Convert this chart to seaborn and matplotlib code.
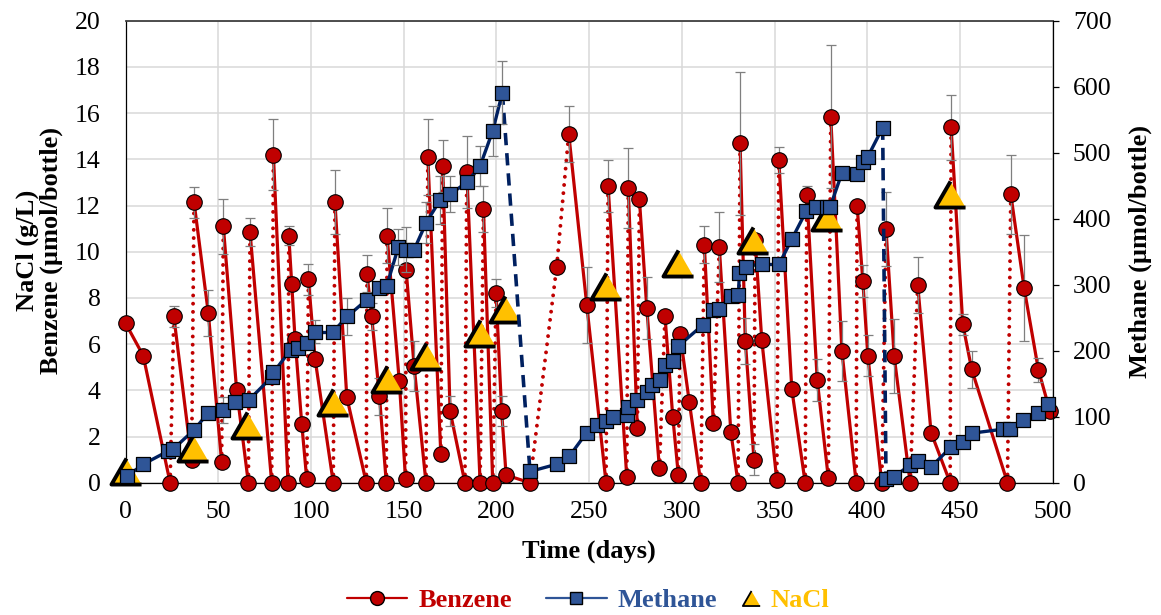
import matplotlib
matplotlib.use("Agg")
import matplotlib.pyplot as plt
from matplotlib.lines import Line2D
import numpy as np
import pandas as pd
import seaborn as sns

# ---- benzene (µmol/bottle), mean and standard deviation ----
benzene_day = [0, 9.5, 24, 26, 35.6, 36.9, 44.6, 51.8, 52.7, 59.9, 66.2, 67.1, 78.8, 79.7,
               87.6, 88.0, 89.6, 91.4, 95.0, 97.7, 98.6, 102.2, 112.0, 112.9, 119.3, 129.8,
               130.2, 132.7, 136.9, 140.6, 141.0, 147.6, 151.0, 151.3, 155.6, 162.0, 163.0,
               170.0, 171.0, 175.0, 183.0, 184.0, 191.2, 193.0, 198.0, 199.8, 202.8, 205.2,
               218.0, 232.5, 239.0, 248.7, 259.1, 260.2, 270.3, 271.1, 276.0, 277.1, 281.1,
               287.9, 290.9, 295.1, 298.1, 299.0, 304.0, 310.2, 312.1, 317.0, 320.2, 326.4,
               330.3, 331.4, 334.2, 338.9, 339.5, 343.1, 351.2, 352.3, 359.3, 366.5, 367.4,
               373.0, 379.0, 380.3, 386.3, 394.0, 394.5, 397.6, 400.3, 407.8, 410.1, 414.5,
               423.1, 427.2, 434.4, 444.7, 445.2, 451.5, 456.3, 475.6, 477.4, 484.6, 492.3,
               498.5]
benzene_umol = [6.9, 5.5, 0, 7.2, 1.0, 12.15, 7.35, 0.9, 11.1, 4.0, 0, 10.85, 0, 14.2,
                0, 10.7, 8.6, 6.2, 2.55, 0.15, 8.8, 5.35, 0, 12.15, 3.7, 0,
                9.05, 7.2, 3.75, 0, 10.7, 4.4, 0.15, 9.2, 5.05, 0, 14.1,
                1.25, 13.7, 3.1, 0, 13.45, 0, 11.85, 0, 8.2, 3.1, 0.33,
                0, 9.35, 15.1, 7.7, 0, 12.85, 0.23, 12.75, 2.35, 12.27, 7.55,
                0.62, 7.2, 2.86, 0.33, 6.44, 3.5, 0, 10.3, 2.57, 10.2, 2.2,
                0, 14.7, 6.15, 1.0, 10.5, 6.18, 0.12, 13.97, 4.04, 0, 12.45,
                4.45, 0.2, 15.85, 5.71, 0, 12.0, 8.74, 5.5, 0, 10.98, 5.48,
                0, 8.56, 2.17, 0, 15.39, 6.86, 4.91, 0, 12.48, 8.42, 4.88,
                3.1]
benzene_sd = [0, 0, 0, 0.45, 0, 0.67, 1.0, 0, 1.18, 0, 0, 0.6, 0, 1.55,
              0, 0.4, 0, 0, 0, 0, 0.67, 0, 0, 1.4, 0, 0,
              0.8, 0.6, 0.8, 0, 1.18, 0, 0, 0, 1.1, 0, 1.65,
              0, 1.12, 0.65, 0, 1.56, 0, 1.0, 0, 0.6, 0.65, 0,
              0, 0, 1.2, 1.65, 0, 1.13, 0, 1.73, 0, 0, 1.35,
              0, 0, 0, 0, 0, 0, 0, 0.8, 0, 1.5, 0,
              0, 3.1, 1.0, 0.67, 0, 0, 0, 0.56, 0, 0, 0.4,
              0.9, 0, 3.1, 1.3, 0, 0, 0.7, 0.9, 0, 1.6, 1.6,
              0, 1.2, 0, 0, 1.4, 0.45, 0.8, 0, 1.7, 2.3, 0.5,
              0]

# ---- methane (µmol/bottle), mean and standard deviation ----
methane_day = [0.9, 9.5, 23, 25.7, 36.9, 44.6, 52.4, 59, 66.7, 78.8, 79.7, 89, 93.2, 97.7,
               102.1, 112, 119.6, 130, 136.9, 140.8, 147.1, 151.2, 155.6, 162.1, 169.6, 175,
               184, 191.2, 198, 203.2, 218.1, 232.5, 239.3, 248.7, 254.1, 259.1, 263, 270.3,
               271.1, 276, 281.1, 283.8, 288.3, 291, 295.1, 298.1, 311.3, 317, 320.2, 326.4,
               330.5, 331, 334.6, 343.1, 352.6, 359.3, 367, 372.4, 378.2, 380, 386.3, 394.3,
               397.6, 400.3, 408.3, 410.1, 414.5, 423.1, 427.6, 434.4, 445.2, 451.5, 456.3,
               473, 477, 484.2, 492.3, 497.7]
methane_umol = [10, 28, 48, 51, 80, 106, 110, 123, 126, 160, 167, 201, 204, 211,
                229, 229, 252, 277, 295, 298, 357, 353, 353, 394, 428, 437,
                455, 480, 533, 591, 17, 28, 40, 76, 87, 94, 100, 103,
                115, 125, 138, 148, 156, 178, 184, 207, 239, 262, 263, 283,
                284, 317, 327, 332, 332, 369, 411, 417, 417, 418, 469, 468,
                486, 494, 538, 5, 9, 27, 33, 24, 54, 62, 75,
                81, 82, 95, 105, 119]
methane_sd = [0, 0, 0, 0, 0, 0, 20, 0, 0, 0, 0, 0, 0, 0,
              17, 0, 28, 0, 0, 0, 27, 34, 0, 31, 36, 27,
              0, 30, 38, 48, 0, 0, 0, 0, 0, 0, 0, 0,
              0, 0, 0, 0, 0, 0, 0, 0, 0, 0, 0, 0,
              0, 0, 0, 0, 0, 0, 0, 0, 0, 0, 0, 0,
              0, 0, 0, 0, 0, 0, 0, 0, 0, 0, 0,
              0, 0, 0, 0, 0]

# ---- NaCl (g/L) ----
nacl_day = [0, 36.2, 65.3, 112, 140.8, 162, 191.2, 204.6, 259.1, 298.1, 338.6, 378.5, 444.7]
nacl_gL = [0.5, 1.5, 2.5, 3.5, 4.5, 5.5, 6.5, 7.5, 8.5, 9.5, 10.5, 11.5, 12.5]

x_ticks = list(range(0, 501, 50))
left_ticks = list(range(0, 21, 2))
right_ticks = list(range(0, 701, 100))

RED = "#C00000"
NAVY = "#002060"
BLUE = "#2F5597"
GOLD = "#FFC000"
GREY = "#7F7F7F"


def segment_table(x, y, classify):
    """One row pair per consecutive segment, tagged with its line kind."""
    rows = []
    for i in range(len(x) - 1):
        kind = classify(y[i], y[i + 1])
        rows.append((i, kind, x[i], y[i]))
        rows.append((i, kind, x[i + 1], y[i + 1]))
    return pd.DataFrame(rows, columns=["seg", "kind", "day", "value"])


sns.set_theme(style="white")
plt.rcParams["font.family"] = ["Liberation Serif", "DejaVu Serif"]
plt.rcParams["axes.unicode_minus"] = False

W, H = 1161, 615
fig = plt.figure(figsize=(W / 100, H / 100), dpi=100)
x0, x1, y0, y1 = 125.6, 1052.7, 20.7, 482.7
ax = fig.add_axes([x0 / W, 1 - y1 / H, (x1 - x0) / W, (y1 - y0) / H])
ax2 = ax.twinx()

# benzene: decay phases solid, re-spikes dotted
bz = segment_table(benzene_day, benzene_umol, lambda a, b: "spike" if b > a else "decay")
sns.lineplot(data=bz[bz["kind"] == "decay"], x="day", y="value", units="seg",
             estimator=None, sort=False, color=RED, linewidth=2.3,
             solid_capstyle="round", legend=False, ax=ax, zorder=2)
sns.lineplot(data=bz[bz["kind"] == "spike"], x="day", y="value", units="seg",
             estimator=None, sort=False, color=RED, linewidth=2.8,
             linestyle=(0, (0.01, 2.1)), dash_capstyle="round",
             legend=False, ax=ax, zorder=2)
bd = np.array(benzene_day); bv = np.array(benzene_umol); bs = np.array(benzene_sd)
m = bs > 0
ax.errorbar(bd[m], bv[m], yerr=bs[m], fmt="none", ecolor=GREY, elinewidth=0.9,
            capsize=3.5, capthick=0.9, zorder=3)
sns.scatterplot(x=benzene_day, y=benzene_umol, ax=ax, marker="o", s=125, color=RED,
                edgecolor="black", linewidth=0.8, zorder=4, clip_on=False, legend=False)

tri = [(0, 0.866), (-1, -0.866), (1, -0.866)]
sns.scatterplot(x=nacl_day, y=nacl_gL, ax=ax, marker=tri, s=470, color=GOLD,
                edgecolor="black", linewidth=2.8, zorder=5, clip_on=False, legend=False)

# methane on the secondary axis: accumulation solid, headspace resets dashed
mt = segment_table(methane_day, methane_umol, lambda a, b: "reset" if b < 0.5 * a else "grow")
sns.lineplot(data=mt[mt["kind"] == "grow"], x="day", y="value", units="seg",
             estimator=None, sort=False, color=NAVY, linewidth=2.4,
             legend=False, ax=ax2, zorder=2)
sns.lineplot(data=mt[mt["kind"] == "reset"], x="day", y="value", units="seg",
             estimator=None, sort=False, color=NAVY, linewidth=2.6,
             linestyle=(0, (3.4, 2.2)), legend=False, ax=ax2, zorder=2)
md = np.array(methane_day); mv = np.array(methane_umol); ms = np.array(methane_sd)
k = ms > 0
ax2.errorbar(md[k], mv[k], yerr=ms[k], fmt="none", ecolor=GREY, elinewidth=0.9,
             capsize=3.5, capthick=0.9, zorder=3)
sns.scatterplot(x=methane_day, y=methane_umol, ax=ax2, marker="s", s=115, color=BLUE,
                edgecolor="black", linewidth=0.9, zorder=4, clip_on=False, legend=False)

# axes
ax.set_xlim(0, 500)
ax.set_ylim(0, 20)
ax2.set_ylim(0, 700)
ax.set_xticks(x_ticks)
ax.set_yticks(left_ticks)
ax2.set_yticks(right_ticks)
ax.set_xlabel("")
ax.set_ylabel("")
ax2.set_ylabel("")
ax.grid(True, color="#D9D9D9", linewidth=1.1)
ax2.grid(False)
ax.set_axisbelow(True)

ax.tick_params(axis="x", length=0, labelsize=18.5, pad=13, colors="black")
ax.tick_params(axis="y", length=0, labelsize=18.5, pad=18, colors="black")
ax2.tick_params(axis="y", direction="out", length=4.5, width=0.9, labelsize=18.5,
                pad=10, colors="black")

for s in ("left", "bottom"):
    ax.spines[s].set_color("black")
    ax.spines[s].set_linewidth(0.9)
ax.spines["top"].set_color("#404040")
ax.spines["top"].set_linewidth(1.3)
ax.spines["right"].set_visible(False)
for s in ("left", "bottom", "top"):
    ax2.spines[s].set_visible(False)
ax2.spines["right"].set_color("black")
ax2.spines["right"].set_linewidth(0.9)

label_font = dict(fontsize=19, fontweight="bold", color="black")
fig.text(39 / W, 1 - 250 / H, "NaCl (g/L)\nBenzene (µmol/bottle)", rotation=90,
         ha="center", va="center", multialignment="center", linespacing=1.05, **label_font)
fig.text(1140 / W, 1 - 251 / H, "Methane (µmol/bottle)", rotation=90,
         ha="center", va="center", **label_font)
fig.text(589 / W, 1 - 551 / H, "Time (days)", ha="center", va="center", **label_font)

# legend
h_bz = Line2D([], [], color=RED, linewidth=1.6, marker="o", markersize=10,
              markerfacecolor=RED, markeredgecolor="black", markeredgewidth=1.0)
h_me = Line2D([], [], color=BLUE, linewidth=1.6, marker="s", markersize=9,
              markerfacecolor=BLUE, markeredgecolor="black", markeredgewidth=1.0)
h_na = Line2D([], [], linestyle="none", marker=tri, markersize=12.5,
              markerfacecolor=GOLD, markeredgecolor="black", markeredgewidth=1.3)
leg_font = {"weight": "bold", "size": 19}
fig.legend([h_bz, h_me], ["Benzene", "Methane"], loc="center",
           bbox_to_anchor=(532 / W, 1 - 600 / H), ncol=2, frameon=False, prop=leg_font,
           labelcolor=[RED, BLUE], handlelength=2.3, handletextpad=0.42,
           columnspacing=1.3, borderpad=0)
fig.legend([h_na], ["NaCl"], loc="center", bbox_to_anchor=(786 / W, 1 - 600 / H),
           frameon=False, prop=leg_font, labelcolor=[GOLD], handlelength=0.6,
           handletextpad=0.45, borderpad=0)

fig.savefig("out.png", dpi=100, facecolor="white")
